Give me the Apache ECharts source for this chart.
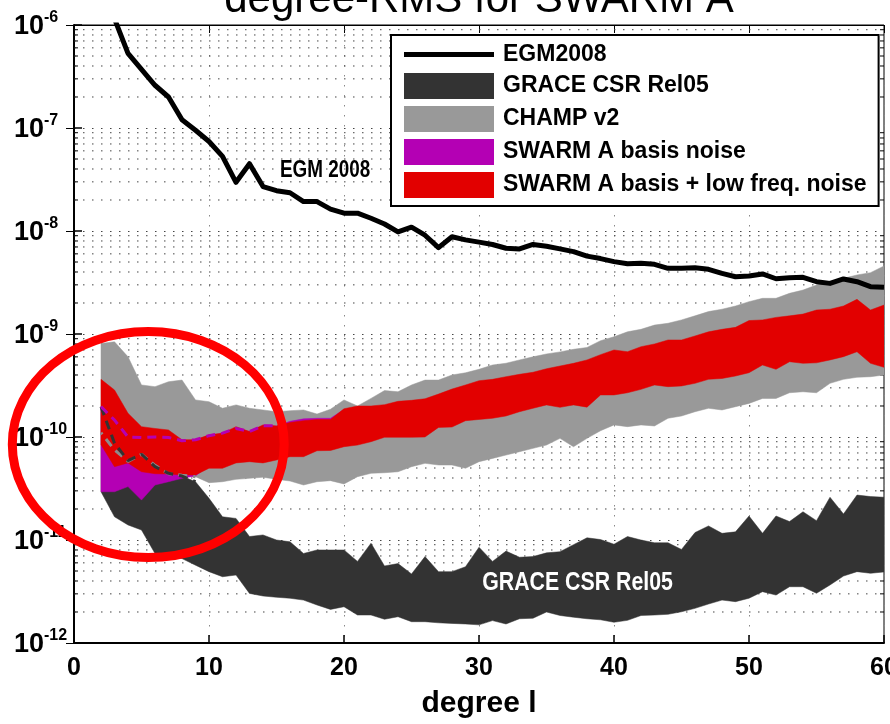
<!DOCTYPE html>
<html><head><meta charset="utf-8">
<script src="https://cdn.jsdelivr.net/npm/echarts@6/dist/echarts.min.js"></script>
<style>html,body{margin:0;padding:0;background:#fff}#c{width:890px;height:724px}</style>
</head><body><div id="c"></div>
<script>
// ---------------- data (degree l = 2..60) ----------------
const degrees = [2,3,4,5,6,7,8,9,10,11,12,13,14,15,16,17,18,19,20,21,22,23,24,25,26,27,28,29,30,31,32,33,34,35,36,37,38,39,40,41,42,43,44,45,46,47,48,49,50,51,52,53,54,55,56,57,58,59,60];

const egm2008 = [null,1.15e-6,5.3e-7,3.7e-7,2.6e-7,2.0e-7,1.2e-7,9.5e-8,7.4e-8,5.3e-8,2.97e-8,4.5e-8,2.7e-8,2.46e-8,2.35e-8,1.93e-8,1.93e-8,1.63e-8,1.49e-8,1.49e-8,1.33e-8,1.17e-8,9.8e-9,1.09e-8,9.1e-9,6.9e-9,8.8e-9,8.2e-9,7.8e-9,7.4e-9,6.8e-9,6.7e-9,7.4e-9,7.1e-9,6.7e-9,6.3e-9,5.7e-9,5.4e-9,5.04e-9,4.8e-9,4.85e-9,4.75e-9,4.34e-9,4.34e-9,4.4e-9,4.25e-9,3.88e-9,3.6e-9,3.65e-9,3.83e-9,3.44e-9,3.52e-9,3.55e-9,3.22e-9,3.1e-9,3.42e-9,3.22e-9,2.88e-9,2.84e-9];

const graceUpper = [1.97e-10,8.7e-11,5.9e-11,6.8e-11,5.15e-11,4.44e-11,4.18e-11,3.68e-11,2.54e-11,1.68e-11,1.62e-11,1.08e-11,1.12e-11,1.0e-11,9.6e-12,7.4e-12,8.0e-12,8.0e-12,8.0e-12,6.2e-12,9.3e-12,5.6e-12,5.9e-12,4.68e-12,6.9e-12,4.93e-12,4.93e-12,5.5e-12,8.5e-12,6.2e-12,7.8e-12,6.8e-12,6.9e-12,7.5e-12,7.7e-12,9.0e-12,1.05e-11,1.01e-11,9.1e-12,1.08e-11,1.0e-11,9.4e-12,9.4e-12,8.1e-12,1.18e-11,1.37e-11,1.16e-11,1.2e-11,1.71e-11,1.16e-11,1.71e-11,1.51e-11,1.88e-11,1.54e-11,2.6e-11,1.79e-11,2.73e-11,2.64e-11,2.6e-11];
const graceLower = [2.94e-11,1.68e-11,1.4e-11,1.25e-11,7.4e-12,7.0e-12,6.6e-12,5.7e-12,4.93e-12,4.4e-12,4.57e-12,3.03e-12,2.86e-12,2.78e-12,2.72e-12,2.61e-12,2.34e-12,2.12e-12,2.25e-12,1.87e-12,1.87e-12,1.7e-12,1.8e-12,1.61e-12,1.61e-12,1.57e-12,1.55e-12,1.53e-12,1.5e-12,1.65e-12,1.53e-12,1.72e-12,1.74e-12,2.0e-12,1.85e-12,1.78e-12,1.72e-12,1.68e-12,1.59e-12,1.66e-12,1.85e-12,1.87e-12,1.9e-12,2.01e-12,2.17e-12,2.39e-12,2.61e-12,2.52e-12,2.72e-12,3.15e-12,2.92e-12,3.52e-12,3.52e-12,3.04e-12,3.66e-12,4.47e-12,4.93e-12,4.75e-12,4.9e-12];

const champUpper = [8.1e-10,8.4e-10,6.0e-10,3.2e-10,3.08e-10,3.44e-10,3.57e-10,2.29e-10,2.2e-10,1.9e-10,2.05e-10,1.9e-10,1.83e-10,1.76e-10,1.8e-10,1.83e-10,1.67e-10,1.86e-10,2.29e-10,2.0e-10,2.37e-10,2.82e-10,2.75e-10,3.2e-10,3.57e-10,3.57e-10,4.0e-10,4.2e-10,4.54e-10,5.0e-10,5.2e-10,5.6e-10,6.0e-10,6.4e-10,6.7e-10,7.1e-10,7.4e-10,8.6e-10,9.4e-10,1.05e-9,1.11e-9,1.22e-9,1.27e-9,1.37e-9,1.5e-9,1.65e-9,1.74e-9,1.87e-9,2.06e-9,2.22e-9,2.22e-9,2.48e-9,2.67e-9,2.99e-9,3.22e-9,3.47e-9,3.74e-9,3.94e-9,4.57e-9];
const champLower = [1.1e-10,7.5e-11,5.8e-11,6.8e-11,5.3e-11,4.4e-11,4.25e-11,4.12e-11,3.6e-11,3.68e-11,3.88e-11,3.97e-11,4.07e-11,3.88e-11,3.74e-11,3.42e-11,3.68e-11,3.77e-11,3.5e-11,4.12e-11,4.44e-11,4.5e-11,4.6e-11,5.15e-11,5.55e-11,5.35e-11,5.35e-11,4.97e-11,5.76e-11,6.2e-11,6.68e-11,7.2e-11,7.76e-11,8.36e-11,9.7e-11,8.05e-11,9.7e-11,1.15e-10,1.31e-10,1.26e-10,1.31e-10,1.28e-10,1.52e-10,1.6e-10,1.76e-10,1.9e-10,1.83e-10,1.97e-10,2.12e-10,2.37e-10,2.37e-10,2.69e-10,2.75e-10,2.69e-10,3.32e-10,3.63e-10,3.8e-10,3.85e-10,4.0e-10];

const swarmUpper = [3.63e-10,2.86e-10,1.7e-10,1.26e-10,1.21e-10,1.17e-10,9.4e-11,9.4e-11,1.05e-10,1.09e-10,1.26e-10,1.13e-10,1.31e-10,1.28e-10,1.38e-10,1.44e-10,1.48e-10,1.48e-10,1.88e-10,2.0e-10,2.0e-10,2.06e-10,2.22e-10,2.27e-10,2.35e-10,2.61e-10,2.92e-10,3.2e-10,3.52e-10,3.63e-10,3.85e-10,4.06e-10,4.25e-10,4.6e-10,4.89e-10,5.19e-10,5.6e-10,6.3e-10,7.0e-10,6.73e-10,7.53e-10,8.0e-10,8.75e-10,8.75e-10,9.57e-10,1.05e-9,1.11e-9,1.16e-9,1.35e-9,1.37e-9,1.45e-9,1.5e-9,1.56e-9,1.71e-9,1.74e-9,1.87e-9,2.17e-9,1.71e-9,1.91e-9];
const swarmLower = [8.4e-11,5.15e-11,5.6e-11,4.6e-11,4.4e-11,4.37e-11,4.28e-11,4.28e-11,4.97e-11,4.97e-11,5.6e-11,5.76e-11,5.6e-11,5.98e-11,6.44e-11,6.44e-11,7.36e-11,7.4e-11,8.05e-11,8.35e-11,9.0e-11,9.93e-11,9.93e-11,9.93e-11,1.0e-10,1.24e-10,1.25e-10,1.44e-10,1.48e-10,1.52e-10,1.6e-10,1.76e-10,1.9e-10,2.05e-10,1.94e-10,2.05e-10,1.95e-10,2.56e-10,2.56e-10,2.69e-10,2.9e-10,3.2e-10,3.08e-10,3.13e-10,3.32e-10,3.63e-10,3.7e-10,3.91e-10,4.21e-10,5.0e-10,4.54e-10,5.38e-10,5.19e-10,5.25e-10,5.6e-10,6.03e-10,6.73e-10,5.19e-10,4.75e-10];

// basis-noise band only visible for the low degrees (2..20)
const basisDegrees = [2,3,4,5,6,7,8,9,10,11,12,13,14,15,16,17,18,19,20];
const basisUpper = [1.97e-10,1.46e-10,1.0e-10,9.9e-11,1.0e-10,9.9e-11,9.2e-11,9.4e-11,1.03e-10,1.09e-10,1.21e-10,1.13e-10,1.29e-10,1.28e-10,1.42e-10,1.5e-10,1.52e-10,1.52e-10,1.85e-10];
const basisLower = [2.94e-11,2.94e-11,3.3e-11,2.44e-11,3.42e-11,3.68e-11,3.97e-11,4.18e-11,5.3e-11,5.4e-11,6.0e-11,6.2e-11,6.1e-11,6.5e-11,7.0e-11,7.0e-11,8.0e-11,8.0e-11,8.8e-11];

// hidden edges drawn dashed inside the highlighted region
const dashedGraceCount = 8;   // degrees 2..9
const dashedChampCount = 8;   // degrees 2..9
const dashedBasisCount = 14;  // degrees 2..15

// axis ticks
const xTicks = [0, 10, 20, 30, 40, 50, 60];
const yDecades = [-12, -11, -10, -9, -8, -7, -6];
const minorFactors = [2, 3, 4, 5, 6, 7, 8, 9];

const seriesNames = ['EGM2008', 'GRACE CSR Rel05', 'CHAMP v2', 'SWARM A basis noise', 'SWARM A basis + low freq. noise'];
const titleText = 'degree-RMS for SWARM A';
const xAxisName = 'degree l';
const egmLabel = 'EGM 2008';
const graceLabel = 'GRACE CSR Rel05';

// annotation anchors in data coordinates
const egmLabelAt = [18.6, 3.83e-8];
const graceLabelAt = [37.3, 3.83e-12];
const ellipseAt = [5.5, 8.45e-11];
const ellipseHalfWidthDeg = 10.07;
const ellipseHalfHeightDecades = 1.097;

// ---------------- fonts ----------------
function hasFont(f) {
  const ctx = document.createElement('canvas').getContext('2d');
  const s = 'SWARM A basis + low freq. noise';
  ctx.font = '40px monospace'; const a = ctx.measureText(s).width;
  ctx.font = '40px "' + f + '", monospace'; const b = ctx.measureText(s).width;
  return Math.abs(a - b) > 1;
}
const F = '"Liberation Sans", Arial, Helvetica, sans-serif';
const NARROW = hasFont('Liberation Sans Narrow');
const FN = NARROW ? '"Liberation Sans Narrow", "Liberation Sans", Arial, sans-serif' : F;
const legendFontSize = NARROW ? 27 : 23;

// ---------------- series helpers ----------------
function pairs(xs, ys, n) {
  const out = [];
  const m = n == null ? xs.length : n;
  for (let i = 0; i < m; i++) out.push([xs[i], ys[i]]);
  return out;
}
function band(name, xs, lower, upper, color, z) {
  return {
    type: 'custom', name: name, z: z, silent: true,
    coordinateSystem: 'cartesian2d', clip: true,
    itemStyle: { color: color },
    encode: { x: 0, y: 1 },
    data: [[xs[0], upper[0]]],
    renderItem: function (params, api) {
      const pts = [];
      for (let i = 0; i < xs.length; i++) pts.push(api.coord([xs[i], upper[i]]));
      for (let i = xs.length - 1; i >= 0; i--) pts.push(api.coord([xs[i], lower[i]]));
      return { type: 'polygon', shape: { points: pts }, style: { fill: color, stroke: color, lineWidth: 0.5 } };
    }
  };
}

const minorValues = [];
for (let d = -12; d < -6; d++) for (const k of minorFactors) minorValues.push([0, k * Math.pow(10, d)]);

const minorGrid = {
  type: 'custom', name: '_minor', z: 1, silent: true, clip: false,
  coordinateSystem: 'cartesian2d', encode: { x: 0, y: 1 },
  data: minorValues,
  renderItem: function (params, api) {
    const v = api.value(1);
    const p0 = api.coord([0, v]), p1 = api.coord([60, v]);
    return {
      type: 'group', children: [
        { type: 'line', shape: { x1: p0[0], y1: p0[1], x2: p1[0], y2: p1[1] }, style: { stroke: '#444', lineWidth: 1, lineDash: [1.5, 7.5] } },
        { type: 'line', shape: { x1: p0[0], y1: p0[1], x2: p0[0] + 4, y2: p0[1] }, style: { stroke: '#000', lineWidth: 1 } },
        { type: 'line', shape: { x1: p1[0] - 4, y1: p1[1], x2: p1[0], y2: p1[1] }, style: { stroke: '#000', lineWidth: 1 } }
      ]
    };
  }
};

const GREY_DARK = '#333333', GREY = '#999999', MAGENTA = '#b400b4', RED = '#e20000';

const option = {
  animation: false,
  backgroundColor: '#ffffff',
  grid: { left: 74, right: 6, top: 25, bottom: 81, containLabel: false, outerBoundsMode: 'none',
          show: true, borderColor: '#000', borderWidth: 1, backgroundColor: 'transparent' },
  legend: {
    orient: 'vertical', left: 391, top: 35,
    itemWidth: 90, itemHeight: 26, itemGap: 7,
    padding: [8, 12, 8, 13],
    borderColor: '#000', borderWidth: 2, backgroundColor: '#fff',
    selectedMode: false,
    textStyle: { fontFamily: FN, fontSize: legendFontSize, fontWeight: 'bold', color: '#000', padding: [0, 0, 0, 4] },
    data: [
      { name: seriesNames[0], icon: 'path://M0,0L90,0L90,5L0,5Z', itemStyle: { color: '#000' } },
      { name: seriesNames[1], icon: 'rect' },
      { name: seriesNames[2], icon: 'rect' },
      { name: seriesNames[3], icon: 'rect' },
      { name: seriesNames[4], icon: 'rect' }
    ]
  },
  xAxis: [{
    type: 'value', min: xTicks[0], max: xTicks[xTicks.length - 1], interval: 10, position: 'bottom',
    axisLine: { show: true, lineStyle: { color: '#000', width: 2 } },
    axisTick: { show: true, inside: true, length: 8, lineStyle: { color: '#000', width: 1.5 } },
    axisLabel: { show: true, fontFamily: F, fontSize: 25, fontWeight: 'bold', color: '#000', margin: 13,
                 showMinLabel: true, showMaxLabel: true, hideOverlap: false },
    splitLine: { show: true, lineStyle: { color: '#888', width: 1, type: [1.5, 8.5] } },
    name: xAxisName, nameLocation: 'middle', nameGap: 46,
    nameTextStyle: { fontFamily: F, fontSize: 30, fontWeight: 'bold', color: '#000' }
  }, {
    type: 'value', min: xTicks[0], max: xTicks[xTicks.length - 1], interval: 10, position: 'top',
    axisLine: { show: true, lineStyle: { color: '#000', width: 1 } },
    axisTick: { show: true, inside: true, length: 8, lineStyle: { color: '#000', width: 1 } },
    axisLabel: { show: false }, splitLine: { show: false }
  }],
  yAxis: [{
    type: 'log', logBase: 10, min: Math.pow(10, yDecades[0]), max: Math.pow(10, yDecades[yDecades.length - 1]),
    splitNumber: 6, position: 'left',
    axisLine: { show: true, lineStyle: { color: '#000', width: 2 } },
    axisTick: { show: true, inside: true, length: 8, lineStyle: { color: '#000', width: 1.5 } },
    axisLabel: {
      show: true, align: 'left', margin: 60, showMinLabel: true, showMaxLabel: true,
      formatter: function (v) { return '{b|10}{s|' + Math.round(Math.log10(v)) + '}'; },
      rich: {
        b: { fontFamily: F, fontSize: 27, fontWeight: 'bold', color: '#000', lineHeight: 30, verticalAlign: 'bottom' },
        s: { fontFamily: F, fontSize: 16, fontWeight: 'bold', color: '#000', lineHeight: 13, verticalAlign: 'top' }
      }
    },
    splitLine: { show: true, lineStyle: { color: '#444', width: 1, type: [1.5, 7.5] } }
  }, {
    type: 'log', logBase: 10, min: Math.pow(10, yDecades[0]), max: Math.pow(10, yDecades[yDecades.length - 1]),
    splitNumber: 6, position: 'right',
    axisLine: { show: true, lineStyle: { color: '#000', width: 1 } },
    axisTick: { show: true, inside: true, length: 8, lineStyle: { color: '#000', width: 1 } },
    axisLabel: { show: false }, splitLine: { show: false }
  }],
  series: [
    minorGrid,
    band(seriesNames[1], degrees, graceLower, graceUpper, GREY_DARK, 2),
    band(seriesNames[2], degrees, champLower, champUpper, GREY, 3),
    band(seriesNames[3], basisDegrees, basisLower, basisUpper, MAGENTA, 4),
    band(seriesNames[4], degrees, swarmLower, swarmUpper, RED, 5),
    { type: 'line', name: '_champEdge', z: 6, silent: true, symbol: 'none', clip: true,
      data: pairs(degrees, champLower, dashedChampCount),
      lineStyle: { color: '#8c8c8c', width: 3, type: [9, 6], dashOffset: 7 } },
    { type: 'line', name: '_graceEdge', z: 6, silent: true, symbol: 'none', clip: true,
      data: pairs(degrees, graceUpper, dashedGraceCount),
      lineStyle: { color: '#333', width: 3, type: [9, 6] } },
    { type: 'line', name: '_basisEdge', z: 6, silent: true, symbol: 'none', clip: true,
      data: pairs(basisDegrees, basisUpper, dashedBasisCount),
      lineStyle: { color: MAGENTA, width: 3, type: [9, 6] } },
    { type: 'line', name: seriesNames[0], z: 10, silent: true, symbol: 'none', clip: true,
      data: pairs(degrees, egm2008), connectNulls: false,
      itemStyle: { color: '#000' },
      lineStyle: { color: '#000', width: 5, join: 'round' } }
  ]
};

const chart = echarts.init(document.getElementById('c'), null, { renderer: 'canvas', width: 890, height: 724 });
chart.setOption(option);

// annotations positioned through the chart's own coordinate system
function px(p) { return chart.convertToPixel({ xAxisIndex: 0, yAxisIndex: 0 }, p); }
const ec = px(ellipseAt);
const ex = px([ellipseAt[0] + ellipseHalfWidthDeg, ellipseAt[1]]);
const ey = px([ellipseAt[0], ellipseAt[1] * Math.pow(10, ellipseHalfHeightDecades)]);
const egmP = px(egmLabelAt);
const graceP = px(graceLabelAt);
const plotMid = (px([0, 1e-9])[0] + px([60, 1e-9])[0]) / 2;
const squeeze = NARROW ? 1 : 0.82;

chart.setOption({
  graphic: [
    { type: 'text', z: 100, x: plotMid, y: 0,
      style: { text: titleText, font: 'normal 42px ' + F, fill: '#000', align: 'center', verticalAlign: 'middle' } },
    { type: 'text', z: 100, x: egmP[0], y: egmP[1], scaleX: squeeze,
      style: { text: egmLabel, font: 'bold 23px ' + FN, fill: '#000', align: 'center', verticalAlign: 'middle' } },
    { type: 'text', z: 100, x: graceP[0], y: graceP[1], scaleX: squeeze,
      style: { text: graceLabel, font: 'bold 26px ' + FN, fill: '#fff', align: 'center', verticalAlign: 'middle' } },
    { type: 'ellipse', z: 100, silent: true,
      shape: { cx: ec[0], cy: ec[1], rx: Math.abs(ex[0] - ec[0]), ry: Math.abs(ec[1] - ey[1]) },
      style: { fill: 'none', stroke: '#ff0000', lineWidth: 9 } }
  ]
});
</script>
</body></html>
